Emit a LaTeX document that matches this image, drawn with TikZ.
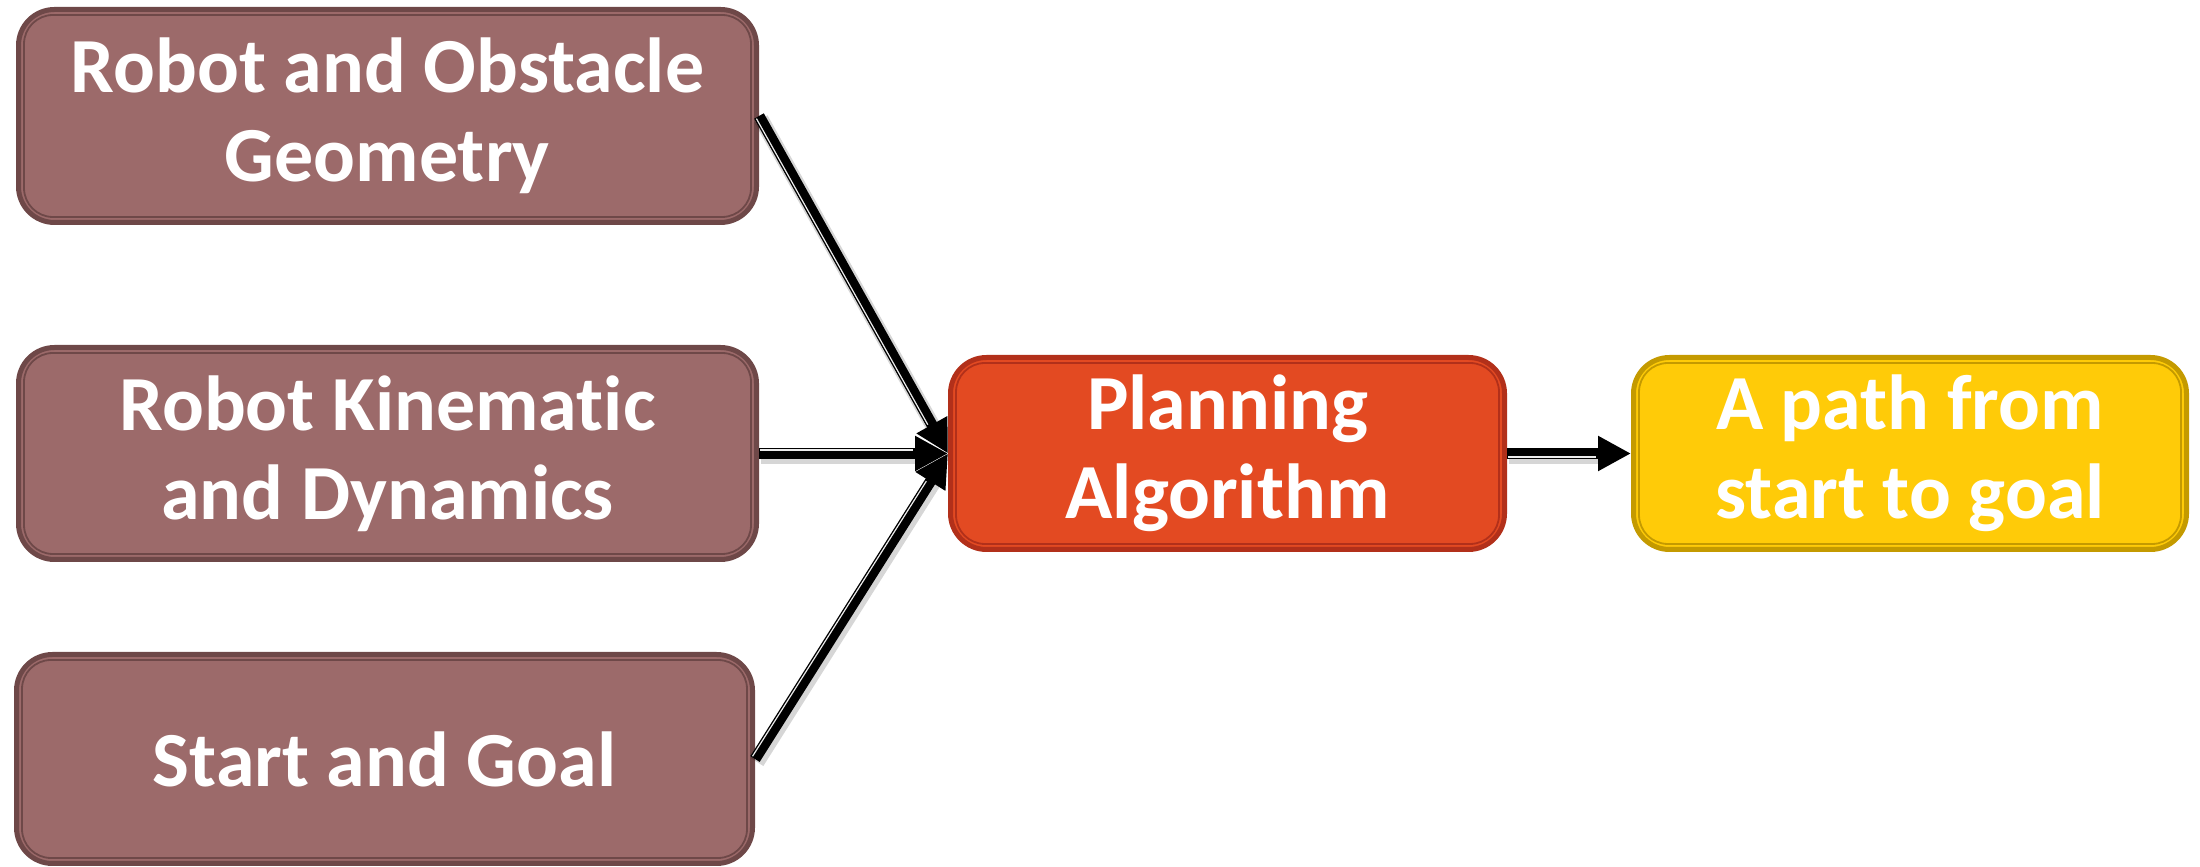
\documentclass[tikz,border=0pt]{standalone}
\usepackage{fontspec}
\setmainfont[Ligatures={NoCommon}]{Carlito}
\usetikzlibrary{arrows.meta,calc}
\definecolor{brfill}{HTML}{9C6A6A}
\definecolor{brline}{HTML}{6E4848}
\definecolor{rdfill}{HTML}{E34A22}
\definecolor{rdline}{HTML}{B2301A}
\definecolor{ylfill}{HTML}{FFCB08}
\definecolor{ylline}{HTML}{C49A00}
\newcommand\innerframe[2]{\draw[innerln,#2] ($(#1.south west)+(8,8)$) rectangle ($(#1.north east)+(-8,-8)$);}
\begin{document}
\begin{tikzpicture}[x=1pt,y=1pt,
  box/.style={rounded corners=36pt, line width=5pt, align=center, text=white,
    font=\bfseries\fontsize{78}{89}\selectfont, inner sep=0pt},
  brown/.style={box, draw=brline, fill=brfill},
  red/.style={box, draw=rdline, fill=rdfill},
  yellow/.style={box, draw=ylline, fill=ylfill},
  innerln/.style={rounded corners=29pt, line width=1.8pt},
  conn/.style={line width=11pt, black, -{Triangle[length=33pt,width=33pt]}},
  shade/.style={line width=15pt, black, opacity=0.16, shorten >=22pt},
  hilite/.style={line width=1.2pt, white!85!gray, shorten >=35pt, shorten <=1pt},
]
\useasboundingbox (0,0) rectangle (2200,867);
\node[brown, minimum width=738pt, minimum height=213pt] (geo) at (387.5,751) {Robot and Obstacle\\Geometry};
\node[brown, minimum width=738pt, minimum height=212pt] (kin) at (387.5,413.5) {Robot Kinematic\\and Dynamics};
\node[brown, minimum width=736pt, minimum height=209pt] (sg) at (384.5,108) {Start and Goal};
\node[red, minimum width=554pt, minimum height=192pt] (plan) at (1227.5,413.5) {Planning\\Algorithm};
\node[yellow, minimum width=553pt, minimum height=192pt] (path) at (1910,413.5) {A path from\\start to goal};
\innerframe{geo}{brline}
\innerframe{kin}{brline}
\innerframe{sg}{brline}
\innerframe{plan}{rdline}
\innerframe{path}{ylline}
% shadows
\draw[shade, transform canvas={shift={(2,-3)}}] (geo.east) -- (plan.west);
\draw[shade, transform canvas={shift={(2,-3)}}] (kin.east) -- (plan.west);
\draw[shade, transform canvas={shift={(2,-3)}}] (sg.east) -- (plan.west);
\draw[shade, transform canvas={shift={(2,-3)}}] (plan.east) -- (path.west);
% connectors
\draw[conn] (geo.east) -- (plan.west);
\draw[conn] (kin.east) -- (plan.west);
\draw[conn] (sg.east) -- (plan.west);
\draw[conn] (plan.east) -- (path.west);
% highlights
\draw[hilite, transform canvas={shift={(-3.1,-1.7)}}] (geo.east) -- (plan.west);
\draw[hilite, transform canvas={shift={(0,3.5)}}] (kin.east) -- (plan.west);
\draw[hilite, transform canvas={shift={(-3,1.9)}}] (sg.east) -- (plan.west);
\draw[hilite, transform canvas={shift={(0,-3.5)}}] (plan.east) -- (path.west);
\end{tikzpicture}
\end{document}
